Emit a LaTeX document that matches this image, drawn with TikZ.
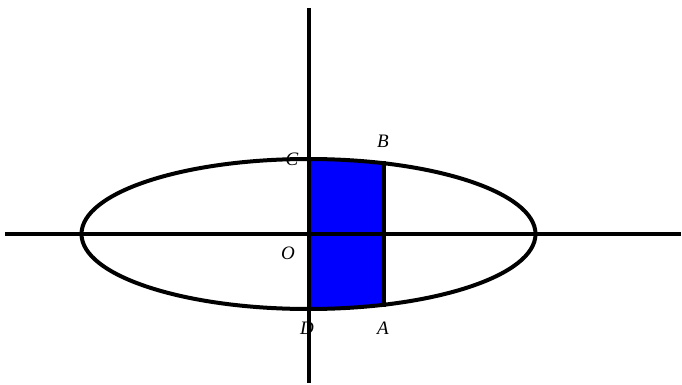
\documentclass[tikz,border=0pt]{standalone}
\usepackage{fontspec}
\setmainfont{Liberation Serif}
\begin{document}
\begin{tikzpicture}[x=1pt,y=-1pt,
  axisline/.style={line width=4pt},
  curve/.style={line width=4pt},
  lbl/.style={font=\fontsize{19}{21}\selectfont\itshape, inner sep=0pt}]
\useasboundingbox (0,0) rectangle (682,385);
\coordinate (ctr) at (308.5,234);
\coordinate (xl) at (5,234);
\coordinate (xr) at (681,234);
\coordinate (yt) at (308.5,8);
\coordinate (yb) at (308.5,383);
\coordinate (Bp) at (384,161);
\coordinate (Ap) at (384,307);
\begin{scope}
  \clip (ctr) ellipse [x radius=227pt, y radius=75pt];
  \fill[blue] (308.5,150) rectangle (384,320);
\end{scope}
\draw[curve] (ctr) ellipse [x radius=227pt, y radius=75pt];
\draw[axisline] (xl) -- (xr);
\draw[axisline] (yt) -- (yb);
\draw[axisline] (Bp) -- (Ap);
\node[lbl] (B) at (383,141) {B};
\node[lbl] (C) at (292,159) {C};
\node[lbl] (O) at (288,253) {O};
\node[lbl] (D) at (307,328) {D};
\node[lbl] (A) at (383,328) {A};
\end{tikzpicture}
\end{document}
